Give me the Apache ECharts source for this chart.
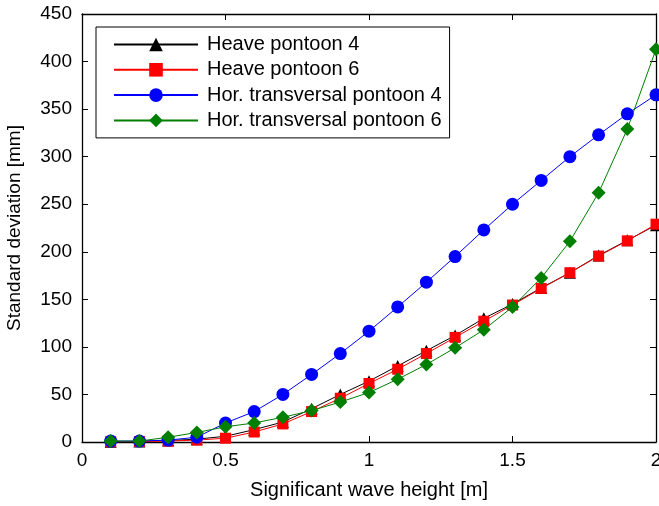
<!DOCTYPE html>
<html>
<head>
<meta charset="utf-8">
<script src="https://cdn.jsdelivr.net/npm/echarts@6/dist/echarts.min.js"></script>
<style>
  html, body { margin: 0; padding: 0; background: #fff; }
  #main { width: 659px; height: 506px; }
</style>
</head>
<body>
<div id="main"></div>
<script>
var chartDom = document.getElementById('main');
var myChart = echarts.init(chartDom);

// wave heights [m]
const waveHeight = [0.1, 0.2, 0.3, 0.4, 0.5, 0.6, 0.7, 0.8, 0.9, 1.0,
  1.1, 1.2, 1.3, 1.4, 1.5, 1.6, 1.7, 1.8, 1.9, 2.0];

// standard deviations [mm]
const heave4 = [0.3, 0.5, 1.5, 3, 6, 13, 21, 35, 50, 64,
  80, 96, 112, 130, 145, 162, 178, 196, 212, 228];
const heave6 = [0.3, 0.5, 1, 2, 4, 10.5, 19, 32, 46, 61.5,
  76.5, 93, 110, 127, 144, 161.5, 178, 195.5, 211.5, 229];
const horTrans4 = [1, 1, 2, 5, 20, 32, 50, 71, 93, 116.5,
  142, 168, 195, 223, 250, 275, 300, 323, 345, 365];
const horTrans6 = [1, 1, 5, 10, 16, 20, 26, 33, 42, 52,
  66, 81.5, 99, 118, 142, 172.5, 211, 262, 329, 413];

const seriesNames = ['Heave pontoon 4', 'Heave pontoon 6',
  'Hor. transversal pontoon 4', 'Hor. transversal pontoon 6'];

function pairs(ys) {
  return waveHeight.map((x, i) => [x, ys[i]]);
}

const font = 'Liberation Sans, Arial, Helvetica, sans-serif';

function lineSeries(name, ys, color, symbol, size) {
  return {
    name: name,
    type: 'line',
    data: pairs(ys),
    symbol: symbol,
    symbolSize: size,
    showAllSymbol: true,
    lineStyle: { color: color, width: 1 },
    itemStyle: { color: color },
    animation: false
  };
}

function axisStyle() {
  return {
    axisLine: { show: true, onZero: false, lineStyle: { color: '#000', width: 1.3 } },
    axisTick: { show: true, inside: true, length: 6, lineStyle: { color: '#000' } },
    splitLine: { show: false }
  };
}

var option = {
  backgroundColor: '#fff',
  grid: { left: 82, right: 3, top: 14, bottom: 64, containLabel: false, outerBoundsMode: 'none' },
  legend: {
    orient: 'vertical',
    left: 96,
    top: 27,
    itemWidth: 84,
    itemHeight: 17,
    itemGap: 2.3,
    padding: [6, 8, 6, 17],
    borderColor: '#000',
    borderWidth: 1,
    backgroundColor: '#fff',
    textStyle: { fontFamily: font, fontSize: 20, color: '#000', lineHeight: 23, padding: [0, 0, 0, 4] },
    data: seriesNames
  },
  xAxis: [
    Object.assign({
      type: 'value', min: 0, max: 2, interval: 0.5,
      name: 'Significant wave height [m]',
      nameLocation: 'middle', nameGap: 38,
      nameTextStyle: { fontFamily: font, fontSize: 20, color: '#000' },
      axisLabel: { fontFamily: font, fontSize: 19, color: '#000', margin: 9, showMaxLabel: true }
    }, axisStyle()),
    Object.assign({
      type: 'value', min: 0, max: 2, interval: 0.5, position: 'top',
      axisLabel: { show: false }
    }, axisStyle())
  ],
  yAxis: [
    Object.assign({
      type: 'value', min: 0, max: 450, interval: 50,
      name: 'Standard deviation [mm]',
      nameLocation: 'middle', nameGap: 58,
      nameTextStyle: { fontFamily: font, fontSize: 19, color: '#000' },
      axisLabel: { fontFamily: font, fontSize: 19, color: '#000', margin: 10 }
    }, axisStyle()),
    Object.assign({
      type: 'value', min: 0, max: 450, interval: 50, position: 'right',
      axisLabel: { show: false }
    }, axisStyle())
  ],
  series: [
    lineSeries(seriesNames[0], heave4, '#000000', 'triangle', 12),
    lineSeries(seriesNames[1], heave6, '#ff0000', 'rect', 11),
    lineSeries(seriesNames[2], horTrans4, '#0000ff', 'circle', 13),
    lineSeries(seriesNames[3], horTrans6, '#007f00', 'diamond', 14)
  ]
};

option && myChart.setOption(option);
</script>
</body>
</html>
